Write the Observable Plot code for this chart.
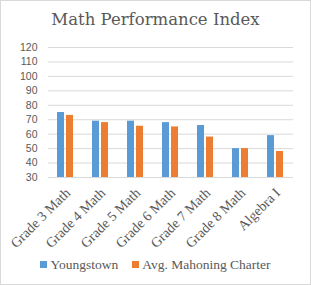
<!DOCTYPE html>
<html><head><meta charset="utf-8">
<script src="https://cdn.jsdelivr.net/npm/d3@7"></script>
<script src="https://cdn.jsdelivr.net/npm/@observablehq/plot@0.6"></script>
<style>
body{margin:0;background:#fff;}
#wrap{position:relative;width:311px;height:285px;overflow:hidden;background:#fff;}
#border{position:absolute;left:0;top:0;width:311px;height:285px;box-sizing:border-box;border:1px solid #d9d9d9;pointer-events:none;}
#title{height:36px;line-height:40px;text-align:center;font-family:"DejaVu Serif",serif;font-size:16.5px;color:#595959;}
#legend{position:absolute;left:0;top:257px;width:311px;text-align:center;font-family:"Liberation Serif",serif;font-size:13.5px;color:#595959;white-space:nowrap;}
#legend span.sw{display:inline-block;width:7px;height:7px;margin-right:3px;vertical-align:1px;}
#legend span.item{margin:0 7px;}
svg{display:block;}
</style></head><body>
<div id="wrap">
<div id="title">Math Performance Index</div>
<div id="chart"></div>
<div id="legend"></div>
<div id="border"></div>
</div>
<script>
const categories = ["Grade 3 Math","Grade 4 Math","Grade 5 Math","Grade 6 Math","Grade 7 Math","Grade 8 Math","Algebra I"];
const seriesNames = ["Youngstown","Avg. Mahoning Charter"];
const youngstown = [75, 69, 69, 68, 66, 50, 59];
const mahoning = [73, 68, 65.5, 65, 58, 50, 48];
const yTicks = [30,40,50,60,70,80,90,100,110,120];
const colors = ["#5B9BD5","#ED7D31"];
const yMin = 30;

const data = [];
categories.forEach((c,i)=>{
  data.push({category:c, series:seriesNames[0], value:youngstown[i]});
  data.push({category:c, series:seriesNames[1], value:mahoning[i]});
});

const chart = Plot.plot({
  width: 311,
  height: 214,
  marginTop: 11,
  marginBottom: 73,
  marginLeft: 45,
  marginRight: 15,
  style: {fontFamily: "Liberation Serif, serif", fontSize: "14px", color: "#595959", background: "transparent"},
  fx: {domain: categories, padding: 0, label: null, tickSize: 0, tickPadding: 13, tickRotate: -45},
  x: {domain: seriesNames, paddingInner: 0.2, paddingOuter: 0.9, axis: null},
  y: {domain: [30,120], ticks: yTicks, tickSize: 0, tickPadding: 11, label: null, tickFormat: d=>String(d)},
  color: {domain: seriesNames, range: colors},
  marks: [
    Plot.ruleY(yTicks, {stroke: "#d9d9d9", strokeWidth: 1}),
    Plot.barY(data, {fx: "category", x: "series", y1: () => yMin, y2: "value", fill: "series"})
  ]
});
document.getElementById("chart").appendChild(chart);
chart.querySelectorAll("[aria-label^='y-axis']").forEach(g=>{
  g.setAttribute("font-family","Liberation Sans, sans-serif");
  g.setAttribute("font-size","10.5");
  g.querySelectorAll("text").forEach(t=>{t.style.fontFamily="Liberation Sans, sans-serif"; t.style.fontSize="10.5px"; t.style.fill="#595959";});
});
chart.querySelectorAll("[aria-label^='fx-axis']").forEach(g=>{
  const tr = g.getAttribute("transform") || "";
  g.setAttribute("transform", tr + " translate(2,0)");
  g.querySelectorAll("text").forEach(t=>{t.style.fill="#595959";});
});

const lg = document.getElementById("legend");
seriesNames.forEach((s,i)=>{
  const it = document.createElement("span"); it.className="item";
  const sw = document.createElement("span"); sw.className="sw"; sw.style.background=colors[i];
  it.appendChild(sw); it.appendChild(document.createTextNode(s));
  lg.appendChild(it);
});
</script>
</body></html>
